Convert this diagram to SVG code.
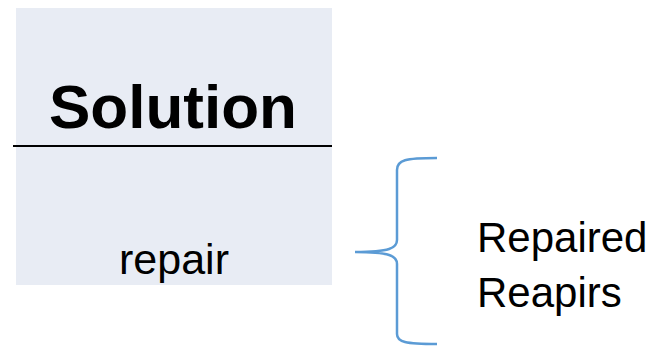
<svg xmlns="http://www.w3.org/2000/svg" width="653" height="346" viewBox="0 0 653 346">
<style>
text{font-family:"Liberation Sans",Arial,sans-serif;fill:#000}
.title{font-size:62px;font-weight:bold}
.op{font-size:43px}
.lbl{font-size:42px}
.brace{fill:none;stroke:#5b9bd5;stroke-width:2.5}
</style>
<rect width="653" height="346" fill="#ffffff"/>
<g id="solution">
<rect x="16" y="8" width="316" height="277" fill="#e8ecf4"/>
<line x1="13" y1="146" x2="332" y2="146" stroke="#000" stroke-width="2"/>
<text class="title" x="173" y="128" text-anchor="middle">Solution</text>
<text class="op" x="174" y="274" text-anchor="middle">repair</text>
</g>
<g id="connectors">
<path class="brace" d="M437,158 C405,158 397,160 397,170 L397,240 C397,248 390,252 355,252 C390,252 397,256 397,264 L397,334 C397,342 405,344 437,344"/>
</g>
<g id="label">
<text class="lbl" x="477" y="252">Repaired</text>
<text class="lbl" x="477" y="307">Reapirs</text>
</g>
</svg>
